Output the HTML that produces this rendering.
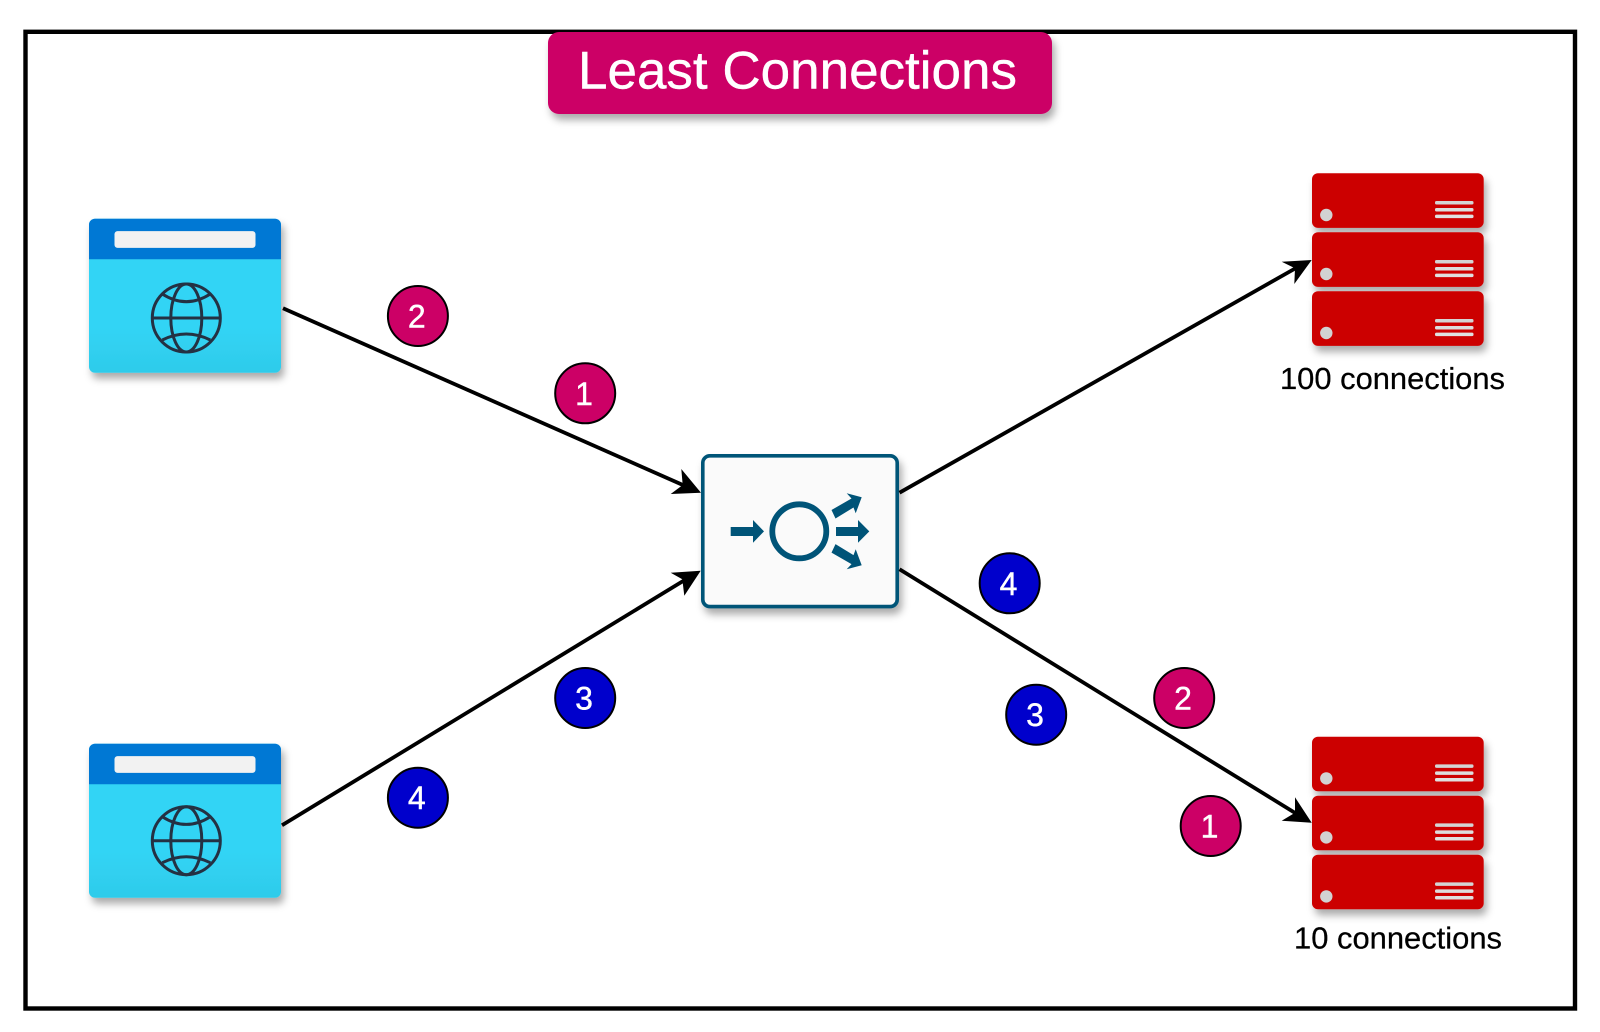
<!DOCTYPE html>
<html lang="en">
<head>
<meta charset="utf-8">
<title>Least Connections</title>
<style>
html,body{margin:0;padding:0;background:#fff;}
svg{display:block;filter:blur(0.35px);}
text{font-family:"Liberation Sans",Arial,Helvetica,sans-serif;}
</style>
</head>
<body>
<svg xmlns="http://www.w3.org/2000/svg" width="1600" height="1032" viewBox="0 0 1600 1032">
<defs>
  <filter id="sh" x="-20%" y="-20%" width="140%" height="150%">
    <feDropShadow dx="3" dy="6" stdDeviation="4" flood-color="#000" flood-opacity="0.33"/>
  </filter>
  <linearGradient id="body" x1="0" y1="0" x2="0" y2="1">
    <stop offset="0" stop-color="#32D4F5"/>
    <stop offset="0.7" stop-color="#32D4F5"/>
    <stop offset="1" stop-color="#2ECBEA"/>
  </linearGradient>
  <g id="browser">
    <g filter="url(#sh)">
      <rect x="89" y="0" width="192" height="154" rx="6" fill="url(#body)"/>
    </g>
    <path d="M89 40.6V6a6 6 0 0 1 6-6h180a6 6 0 0 1 6 6v34.6z" fill="#0078D4"/>
    <rect x="114.5" y="12.4" width="141" height="16.8" rx="3" fill="#F2F2F2"/>
  </g>
  <g id="globe" fill="none" stroke="#243143" stroke-width="3">
    <circle r="34"/>
    <ellipse rx="15.5" ry="34"/>
    <path d="M-34 0H34"/>
    <path d="M-24-24Q0-8.6 24-24"/>
    <path d="M-24 22Q0 10 24 22"/>
  </g>
  <g id="unit">
    <rect x="1312" y="0" width="171.7" height="54.6" rx="6" fill="#CC0000"/>
    <circle cx="1326.3" cy="41.7" r="6.2" fill="#D2D2D2"/>
    <rect x="1435" y="27.7" width="38.5" height="3.5" rx="1.5" fill="#D4D4D4"/>
    <rect x="1435" y="34.7" width="38.5" height="3.5" rx="1.5" fill="#DDDDDD"/>
    <rect x="1435" y="41.3" width="38.5" height="3.5" rx="1.5" fill="#E0E0E0"/>
  </g>
</defs>

<rect width="1600" height="1032" fill="#fff"/>

<!-- frame -->
<rect x="25.5" y="31.8" width="1549.5" height="976.7" fill="#fff" stroke="#000" stroke-width="4.4"/>

<!-- title -->
<g filter="url(#sh)">
  <rect x="548" y="32" width="504" height="82" rx="11" fill="#CC0066"/>
</g>
<text x="578" y="88.5" font-size="53" fill="#fff" stroke="#fff" stroke-width="0.4" textLength="439" lengthAdjust="spacingAndGlyphs">Least Connections</text>

<!-- browsers -->
<use href="#browser" y="218.7"/>
<use href="#browser" y="743.7"/>
<use href="#globe" x="186.3" y="318"/>
<use href="#globe" x="186.3" y="840.7"/>

<!-- servers top -->
<g filter="url(#sh)">
  <use href="#unit" y="173.3"/>
  <use href="#unit" y="232.3"/>
  <use href="#unit" y="291.3"/>
</g>
<!-- servers bottom -->
<g filter="url(#sh)">
  <use href="#unit" y="736.7"/>
  <use href="#unit" y="795.7"/>
  <use href="#unit" y="854.7"/>
</g>

<text x="1280" y="389" font-size="30.8" fill="#000" stroke="#000" stroke-width="0.25" textLength="225" lengthAdjust="spacingAndGlyphs">100 connections</text>
<text x="1294" y="948.6" font-size="30.8" fill="#000" stroke="#000" stroke-width="0.25" textLength="208" lengthAdjust="spacingAndGlyphs">10 connections</text>

<!-- load balancer -->
<g filter="url(#sh)">
  <rect x="702.8" y="455.8" width="194.4" height="150.8" rx="7" fill="#FAFAFA" stroke="#005478" stroke-width="3.6"/>
</g>
<g fill="#005478">
  <circle cx="799.3" cy="531.3" r="27" fill="none" stroke="#005478" stroke-width="5.8"/>
  <path d="M730.7 527H753V520L764 531.4L753 542.7V536H730.7z"/>
  <path d="M836 527H858V520L869.3 531.4L858 542.7V536H836z"/>
  <path d="M831.5 510L851.5 498.5L846.7 493.3L861.7 497.3L855.7 513.3L853.5 507.5L835.5 518.5z"/>
  <path d="M831.5 552.6L851.5 564.1L846.7 569.3L861.7 565.3L855.7 549.3L853.5 555.1L835.5 544.1z"/>
</g>

<!-- connectors -->
<g stroke="#000" stroke-width="3.8" fill="none">
  <path d="M283 308.3L686 486.4"/>
  <path d="M282 825.3L686 579.3"/>
  <path d="M899.5 492.7L1296 268"/>
  <path d="M899.5 569.3L1296 813.5"/>
</g>
<g fill="#000">
  <path d="M701 492.7L681.3 469L682.7 485L670.7 494z"/>
  <path d="M700.7 570.7L670.7 572.7L682.3 579.3L684.3 595.7z"/>
  <path d="M1311.7 260L1281.7 261.7L1295 268.3L1294.3 284z"/>
  <path d="M1311.7 822.7L1295 797.3L1295 812.7L1281.7 820.7z"/>
</g>

<!-- badges -->
<g stroke="#000" stroke-width="2">
  <circle cx="417.9" cy="316" r="30" fill="#CC0066"/>
  <circle cx="585.2" cy="393.3" r="30" fill="#CC0066"/>
  <circle cx="1184.2" cy="698" r="30" fill="#CC0066"/>
  <circle cx="1210.7" cy="826" r="30" fill="#CC0066"/>
  <circle cx="585.2" cy="698" r="30" fill="#0000CC"/>
  <circle cx="417.9" cy="797.7" r="30" fill="#0000CC"/>
  <circle cx="1009.7" cy="583.3" r="30" fill="#0000CC"/>
  <circle cx="1036.2" cy="714.7" r="30" fill="#0000CC"/>
</g>
<g font-size="32" fill="#fff" stroke="#fff" stroke-width="0.4" text-anchor="middle">
  <text x="416.8" y="327.5">2</text>
  <text x="584" y="404.8">1</text>
  <text x="1183" y="709.5">2</text>
  <text x="1209.5" y="837.5">1</text>
  <text x="584" y="709.5">3</text>
  <text x="416.8" y="809">4</text>
  <text x="1008.5" y="594.8">4</text>
  <text x="1035" y="726.2">3</text>
</g>
</svg>
</body>
</html>
